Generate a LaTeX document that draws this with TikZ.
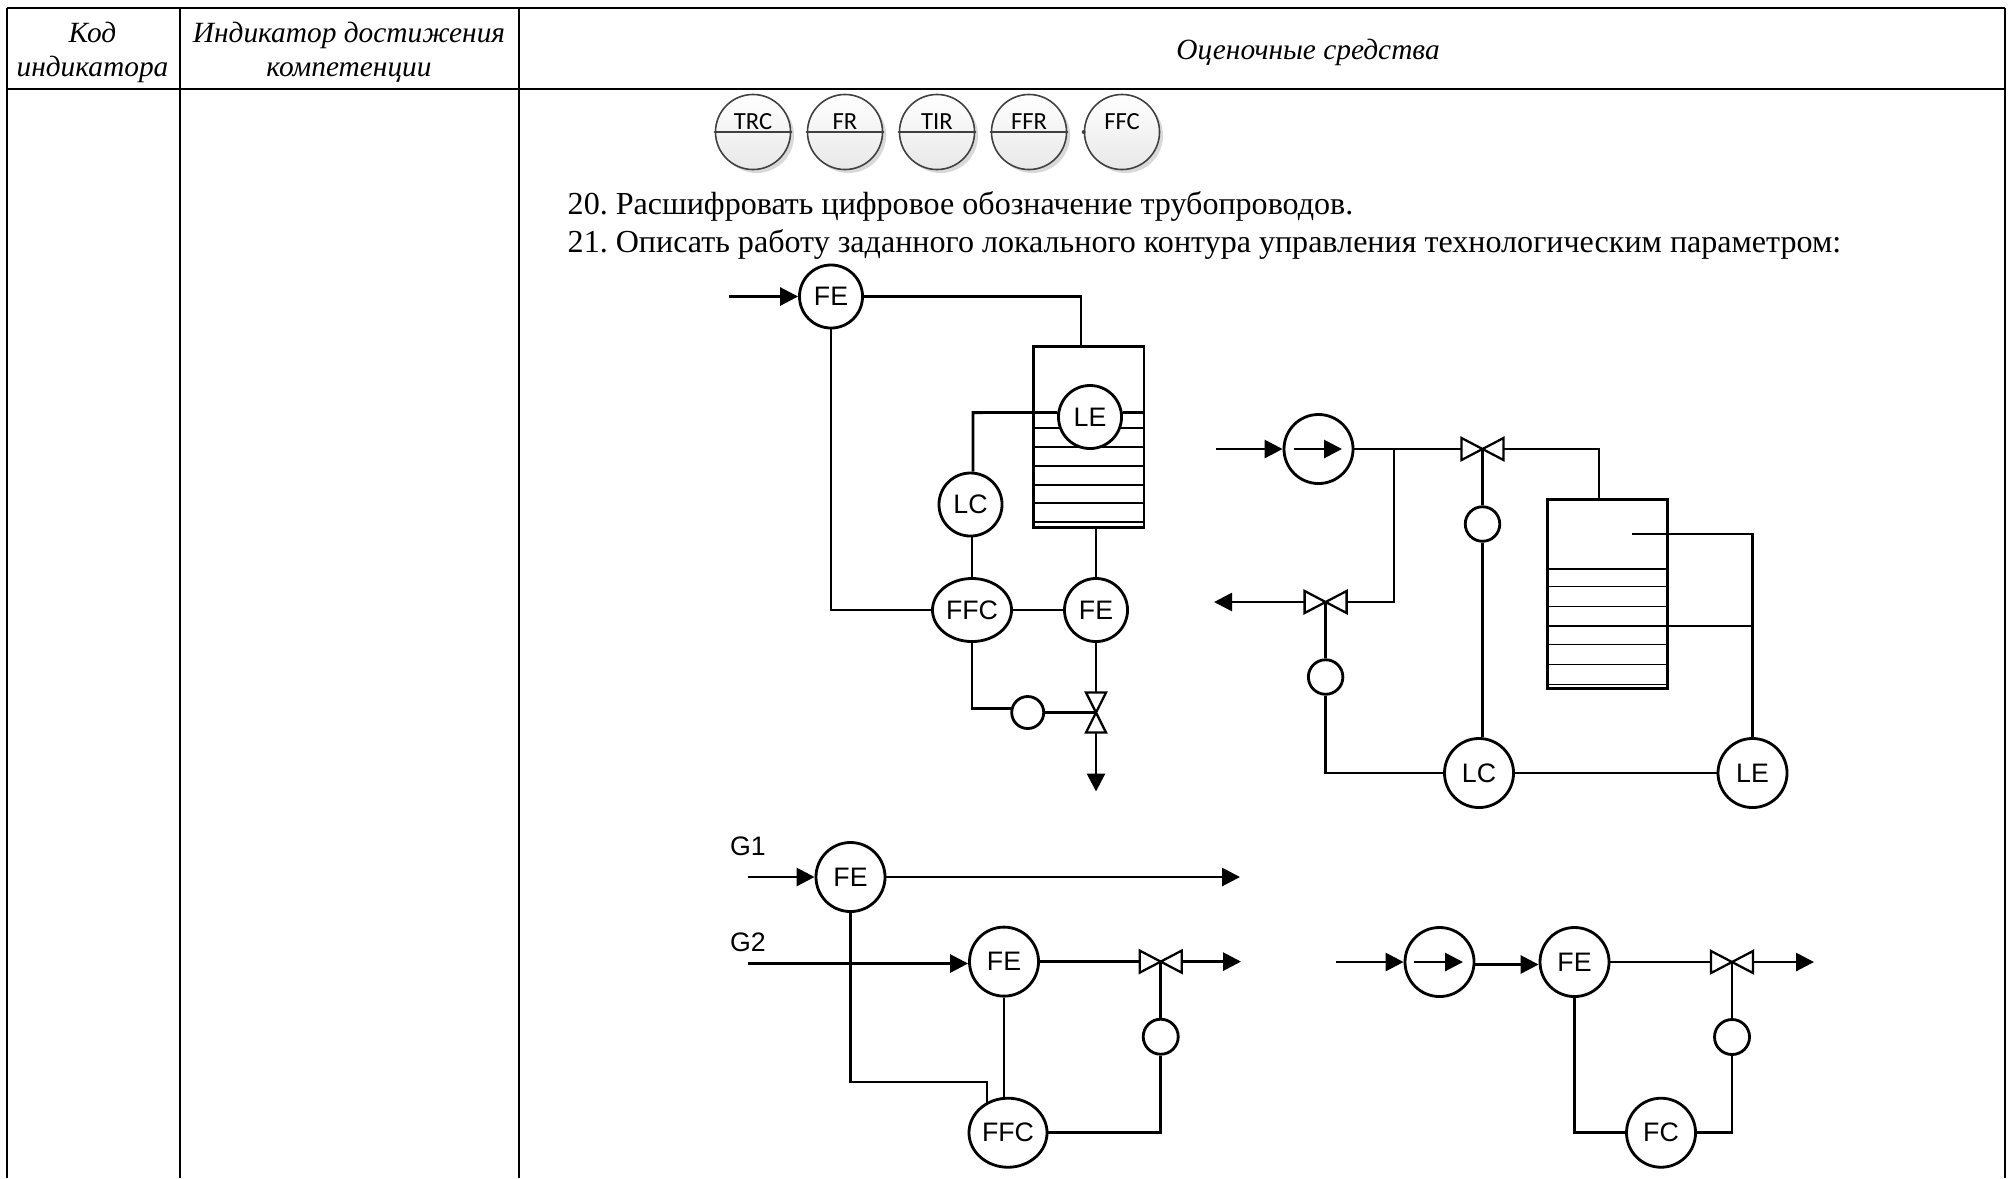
\documentclass[tikz,border=0pt]{standalone}
\usepackage{fontspec}
\setmainfont{Liberation Serif}
\newfontfamily\instfont{Liberation Sans}
\newfontfamily\tagfont{Carlito}
\usetikzlibrary{positioning, arrows.meta, shapes, shadows}
\frenchspacing

\tikzset{
    pipe/.style={black,line width=.8pt},
    flow/.style={pipe,-{Triangle[length=1.8mm,width=1.8mm]}},
    inst/.style={circle,draw,fill=white,line width=.8pt,inner sep=0,
        minimum size=.63cm,font=\instfont\fontsize{7.6}{8}\selectfont},
    instbig/.style={inst,minimum size=.69cm},
    instoval/.style={ellipse,draw,fill=white,line width=.8pt,inner sep=0,
        font=\instfont\fontsize{7.6}{8}\selectfont},
    actuator/.style={circle,draw,fill=white,line width=.8pt,inner sep=0,minimum size=.34cm},
    tagcircle/.style={circle,draw=black!75,line width=.45pt,inner sep=0,minimum size=.75cm,
        top color=white,bottom color=black!9,
        drop shadow={shadow xshift=.035cm,shadow yshift=-.035cm,opacity=.3}},
    tagtext/.style={inner sep=0,font=\tagfont\fontsize{7}{8}\selectfont},
    headtext/.style={inner sep=0,anchor=base,font=\itshape\fontsize{8.35}{10}\selectfont},
    bodytext/.style={inner sep=0,anchor=base west,font=\fontsize{9.12}{10}\selectfont},
    gridline/.style={black,line width=.55pt}
}

\begin{document}
\begin{tikzpicture}[x=.01cm,y=-.01cm]
    \useasboundingbox (0,0) rectangle (2013,1178);

    %table:
    \draw[gridline] (7,8) -- (2005,8);
    \draw[gridline] (7,89) -- (2005,89);
    \foreach \cx in {7,180,519,2005}
        \draw[gridline] (\cx,8) -- (\cx,1178);
    \node[headtext] (headKodA) at (92.5,42) {Код};
    \node[headtext] (headKodB) at (92.5,76) {индикатора};
    \node[headtext] (headIndA) at (349,42) {Индикатор достижения};
    \node[headtext] (headIndB) at (349,76) {компетенции};
    \node[headtext] (headOcen) at (1308,59) {Оценочные средства};

    %symbols on top:
    \foreach \tname/\tx/\tlabel in {tagTRC/753/TRC,tagFR/845/FR,tagTIR/937/TIR,tagFFR/1029/FFR}{
        \node[tagcircle] (\tname) at (\tx,132) {};
        \draw[black!75,line width=.55pt,line cap=round] (\tname.west) -- (\tname.east);
        \node[tagtext] (\tname text) at (\tx,122) {\tlabel};
    }
    \node[tagcircle] (tagFFC) at (1122,132) {};
    \fill[black!75] (tagFFC.west) circle (2);
    \node[tagtext] (tagFFC text) at (1122,122) {FFC};

    \node[bodytext] (taskA) at (567,214.5) {20. Расшифровать цифровое обозначение трубопроводов.};
    \node[bodytext] (taskB) at (567,252) {21. Описать работу заданного локального контура управления технологическим параметром:};

    %first loop:
    \begin{scope}
        \draw[pipe] (1033.5,346.6) rectangle (1144,527.6);
        \foreach \ly in {412.6,427.6,446.6,466.2,484.8,503,522.3}
            \draw[pipe,line width=.55pt] (1033.5,\ly) -- (1144,\ly);
        \coordinate (inA) at (729,296.5);
        \coordinate (tankAin) at (1081,346.6);
        \coordinate (tankAout) at (1096,527.6);
        \coordinate (tankAside) at (1144,412.6);
        \coordinate (bendA) at (973,412.6);
        \coordinate (outA) at (1096,791.5);
        \coordinate (valveA) at (1096,712.5);

        \node[inst] (feA) at (831,296.5) {FE};
        \node[inst] (leA) at (1090,417) {LE};
        \node[inst] (lcA) at (970.5,504.5) {LC};
        \node[instoval,minimum width=.79cm,minimum height=.63cm] (ffcA) at (972,610) {FFC};
        \node[inst] (feB) at (1096,610) {FE};
        \node[actuator,minimum size=.32cm] (actA) at (1027.7,712.5) {};

        \draw[flow] (inA) -- (feA);
        \draw[pipe] (feA) -| (tankAin);
        \draw[pipe] (feA) |- (ffcA);
        \draw[pipe] (leA.172) -- (bendA) -- (bendA |- lcA.north);
        \draw[pipe] (leA.8) -- (tankAside);
        \draw[pipe] (ffcA.north) -- (ffcA.north |- lcA.south);
        \draw[pipe] (ffcA) -- (feB);
        \draw[pipe] (tankAout) -- (feB);
        \draw[pipe] (ffcA) |- (actA.168);
        \draw[pipe] (actA) -- (valveA);
        \draw[pipe] (feB) -- (valveA);
        \draw[flow] (valveA) -- (outA);
        \draw[pipe,line width=.65pt,fill=white] ([shift={(-10,-20)}]valveA) -- ([shift={(10,-20)}]valveA)
            -- ([shift={(-10,20)}]valveA) -- ([shift={(10,20)}]valveA) -- cycle;
    \end{scope}

    %second loop:
    \begin{scope}
        \draw[pipe] (1547.7,499.5) rectangle (1667.5,688.5);
        \foreach \ly in {568.8,586.5,606.5,626.2,644.5,664.5,684.5}
            \draw[pipe,line width=.55pt] (1547.7,\ly) -- (1667.5,\ly);
        \coordinate (inB) at (1216,449);
        \coordinate (pumpAin) at (1293.5,449);
        \coordinate (pumpAout) at (1342,449);
        \coordinate (teeB) at (1394,449);
        \coordinate (valveB) at (1482.5,449);
        \coordinate (valveC) at (1325.6,602);
        \coordinate (outB) at (1214,602);
        \coordinate (tankBin) at (1599,499.5);
        \coordinate (probeA) at (1632,534);
        \coordinate (probeB) at (1632,626);

        \node[instbig] (pumpA) at (1318.5,449) {};
        \node[actuator,minimum size=.345cm] (actB) at (1482.5,524) {};
        \node[actuator,minimum size=.345cm] (actC) at (1325.6,677) {};
        \node[instbig] (lcB) at (1479,773) {LC};
        \node[instbig] (leB) at (1752.5,773) {LE};

        \draw[flow] (inB) -- (pumpA);
        \draw[flow] (pumpAin) -- (pumpAout);
        \draw[pipe] (pumpA) -- (valveB);
        \draw[pipe] (valveB) -| (tankBin);
        \draw[pipe] (teeB) |- (valveC);
        \draw[flow] (valveC) -- (outB);
        \draw[pipe] (valveB) -- (actB);
        \draw[pipe] (valveC) -- (actC);
        \draw[pipe] (actB) -- (actB |- lcB.north);
        \draw[pipe] (actC) |- (lcB);
        \draw[pipe] (lcB) -- (leB);
        \draw[pipe] (probeA) -| (leB);
        \draw[pipe] (probeB) -- (probeB -| leB.north);
    \end{scope}

    %third loop:
    \begin{scope}
        \coordinate (inC) at (748,877);
        \coordinate (inD) at (748,963.5);
        \coordinate (outC) at (1240,877);
        \coordinate (outD) at (1241,961.6);
        \coordinate (valveD) at (1160.7,961.6);
        \coordinate (bendC) at (987,1082);

        \node[instbig] (feC) at (850.5,877) {FE};
        \node[instbig] (feD) at (1004,961.6) {FE};
        \node[instoval,minimum width=.78cm,minimum height=.69cm] (ffcB) at (1008,1132.7) {FFC};
        \node[actuator,minimum size=.35cm] (actD) at (1160.7,1036.7) {};
        \node[inner sep=0,font=\instfont\fontsize{7.6}{8}\selectfont] (labelA) at (748,846) {G1};
        \node[inner sep=0,font=\instfont\fontsize{7.6}{8}\selectfont] (labelB) at (748,942) {G2};

        \draw[flow] (inC) -- (feC);
        \draw[flow] (feC) -- (outC);
        \draw[flow] (inD) -- (inD -| feD.west);
        \draw[pipe] (feC) |- (bendC) -- (bendC |- ffcB.126);
        \draw[pipe] (feD) -- (feD |- ffcB.north);
        \draw[pipe] (feD) -- (valveD);
        \draw[flow] (valveD) -- (outD);
        \draw[pipe] (valveD) -- (actD);
        \draw[pipe] (actD) |- (ffcB);
    \end{scope}

    %fourth loop:
    \begin{scope}
        \coordinate (inE) at (1336,962);
        \coordinate (pumpBin) at (1414,962);
        \coordinate (pumpBout) at (1463,962);
        \coordinate (valveE) at (1732,962);
        \coordinate (outE) at (1814,962);

        \node[instbig] (pumpB) at (1439.5,962) {};
        \node[instbig] (feE) at (1574.5,962) {FE};
        \node[instbig] (fcA) at (1661,1132.7) {FC};
        \node[actuator,minimum size=.35cm] (actE) at (1732,1037) {};

        \draw[flow] (inE) -- (pumpB);
        \draw[flow] (pumpBin) -- (pumpBout);
        \draw[flow] (pumpB.-4) -- (pumpB.-4 -| feE.west);
        \draw[pipe] (feE) -- (valveE);
        \draw[flow] (valveE) -- (outE);
        \draw[pipe] (valveE) -- (actE);
        \draw[pipe] (actE) |- (fcA);
        \draw[pipe] (feE) |- (fcA);
    \end{scope}

    %valves go last, they cover the pipes:
    \foreach \v in {valveB,valveC,valveD,valveE}
        \draw[pipe,line width=.65pt,fill=white] ([shift={(-21,-11)}]\v) -- ([shift={(21,11)}]\v)
            -- ([shift={(21,-11)}]\v) -- ([shift={(-21,11)}]\v) -- cycle;
\end{tikzpicture}
\end{document}
